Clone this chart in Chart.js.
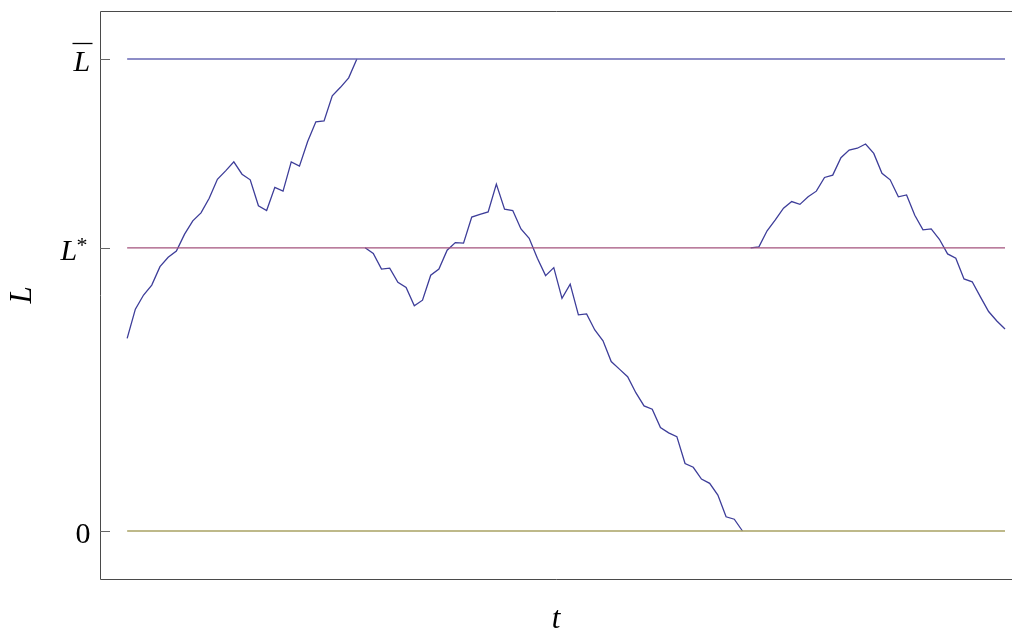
<!DOCTYPE html>
<html>
<head>
<meta charset="utf-8">
<script src="https://cdn.jsdelivr.net/npm/chart.js@4.4.1/dist/chart.umd.min.js"></script>
<style>
  html, body { margin: 0; padding: 0; background: #ffffff; }
  canvas { display: block; }
</style>
</head>
<body>
<canvas id="grafico" width="1012" height="635"></canvas>
<script>
// niveles (L barra = 1, L* = 0.6, 0)
var nivelSuperior = 1;
var nivelObjetivo = 0.6;
var nivelCero = 0;
var tFinal = 107;

// trayectoria de L, tramo por tramo (reinicia en L* al tocar 0 o L barra)
var tramo1 = [0.408, 0.470, 0.500, 0.521, 0.560, 0.580, 0.593, 0.629, 0.657, 0.674,
              0.705, 0.745, 0.763, 0.782, 0.756, 0.744, 0.689, 0.679, 0.728, 0.720,
              0.782, 0.773, 0.825, 0.867, 0.869, 0.922, 0.940, 0.960, 1.000];
var tramo2 = [0.600, 0.588, 0.555, 0.557, 0.527, 0.516, 0.477, 0.489, 0.542, 0.555,
              0.595, 0.611, 0.610, 0.665, 0.671, 0.676, 0.735, 0.682, 0.679, 0.640,
              0.620, 0.578, 0.541, 0.558, 0.493, 0.523, 0.458, 0.460, 0.426, 0.403,
              0.359, 0.343, 0.327, 0.293, 0.265, 0.258, 0.219, 0.208, 0.200, 0.143,
              0.135, 0.110, 0.101, 0.076, 0.030, 0.025, 0.000];
var tramo3 = [0.600, 0.602, 0.636, 0.659, 0.684, 0.698, 0.692, 0.708, 0.720, 0.749,
              0.754, 0.791, 0.807, 0.811, 0.820, 0.800, 0.758, 0.744, 0.708, 0.712,
              0.669, 0.638, 0.640, 0.618, 0.587, 0.578, 0.534, 0.528, 0.496, 0.465,
              0.445, 0.428];

var ticksY = [0, 0.6, 1];
var etiquetasY = ['0', 'L*', 'L'];   // la L de arriba lleva raya encima

function puntos(valores, inicio) {
    return valores.map(function(v, i) {
        return { x: inicio + i, y: v };
    });
}

function horizontal(v) {
    return [{ x: 0, y: v }, { x: tFinal, y: v }];
}

var inicio2 = tramo1.length;
var inicio3 = inicio2 + tramo2.length;

var fuente = 'Liberation Serif, Times New Roman, serif';

// marco (arriba, izquierda, abajo), marcas cortas hacia dentro y etiquetas del eje L
var marco = {
    id: 'marco',
    afterDraw: function(chart) {
        var ctx = chart.ctx, a = chart.chartArea, ejeY = chart.scales.y;
        ctx.save();
        ctx.strokeStyle = '#4a4a4a';
        ctx.lineWidth = 1;
        ctx.beginPath();
        ctx.moveTo(chart.width, Math.round(a.top) + 0.5);
        ctx.lineTo(Math.round(a.left) + 0.5, Math.round(a.top) + 0.5);
        ctx.lineTo(Math.round(a.left) + 0.5, Math.round(a.bottom) + 0.5);
        ctx.lineTo(chart.width, Math.round(a.bottom) + 0.5);
        ctx.stroke();
        ctx.strokeStyle = '#666666';
        ctx.beginPath();
        ticksY.forEach(function(v) {
            var y = Math.round(ejeY.getPixelForValue(v)) + 0.5;
            ctx.moveTo(a.left, y);
            ctx.lineTo(a.left + 10, y);
        });
        ctx.stroke();

        ctx.fillStyle = '#000';
        ctx.textBaseline = 'alphabetic';
        ticksY.forEach(function(v, i) {
            var y = ejeY.getPixelForValue(v) + 12;
            var texto = etiquetasY[i];
            if (v === nivelCero) {
                ctx.font = '30px ' + fuente;
                ctx.textAlign = 'right';
                ctx.fillText(texto, a.left - 9.5, y);
            } else if (v === nivelObjetivo) {
                ctx.font = 'italic 30px ' + fuente;
                ctx.textAlign = 'left';
                ctx.fillText(texto.charAt(0), a.left - 39.5, y);
                ctx.font = '22px ' + fuente;
                ctx.fillText(texto.charAt(1), a.left - 23.5, y - 8);
            } else {
                ctx.font = 'italic 30px ' + fuente;
                ctx.textAlign = 'left';
                ctx.fillText(texto, a.left - 26.5, y);
                ctx.lineWidth = 1.3;
                ctx.strokeStyle = '#000';
                ctx.beginPath();
                ctx.moveTo(a.left - 27.5, y - 27.5);
                ctx.lineTo(a.left - 7.5, y - 27.5);
                ctx.stroke();
            }
        });
        ctx.restore();
    }
};

var ctx = document.getElementById('grafico').getContext('2d');
var grafico = new Chart(ctx, {
    type: 'line',
    data: {
        datasets: [
            { data: horizontal(nivelSuperior), borderColor: '#6767b5', borderWidth: 1.3, pointRadius: 0 },
            { data: horizontal(nivelObjetivo), borderColor: '#a3527c', borderWidth: 1.3, pointRadius: 0 },
            { data: horizontal(nivelCero), borderColor: '#a9a263', borderWidth: 1.3, pointRadius: 0 },
            { data: puntos(tramo1, 0), borderColor: '#3d3d99', borderWidth: 1.3, pointRadius: 0 },
            { data: puntos(tramo2, inicio2), borderColor: '#3d3d99', borderWidth: 1.3, pointRadius: 0 },
            { data: puntos(tramo3, inicio3), borderColor: '#3d3d99', borderWidth: 1.3, pointRadius: 0 }
        ]
    },
    options: {
        responsive: false,
        animation: false,
        layout: { padding: { top: 11, right: 0, left: 0, bottom: 0 } },
        elements: { line: { tension: 0 } },
        plugins: {
            legend: { display: false },
            tooltip: { enabled: false }
        },
        scales: {
            x: {
                type: 'linear',
                min: -3.31,
                max: 107.85,
                grid: { display: false },
                border: { display: false },
                ticks: { display: false },
                title: {
                    display: true,
                    text: 't',
                    color: '#000',
                    font: { family: fuente, size: 31, style: 'italic' },
                    padding: { top: 0, bottom: -3 }
                },
                afterFit: function(scale) { scale.height = 56; }
            },
            y: {
                type: 'linear',
                min: -0.1017,
                max: 1.1017,
                grid: { display: false, drawTicks: false },
                border: { display: false },
                afterBuildTicks: function(scale) {
                    scale.ticks = ticksY.map(function(v) { return { value: v }; });
                },
                ticks: { display: false },
                title: {
                    display: true,
                    text: 'L',
                    color: '#000',
                    font: { family: fuente, size: 31, style: 'italic' },
                    padding: { top: 4, bottom: 0 }
                },
                afterFit: function(scale) {
                    scale.width = 100;
                    scale.paddingTop = 0;
                    scale.paddingBottom = 0;
                }
            }
        }
    },
    plugins: [marco]
});
</script>
</body>
</html>
